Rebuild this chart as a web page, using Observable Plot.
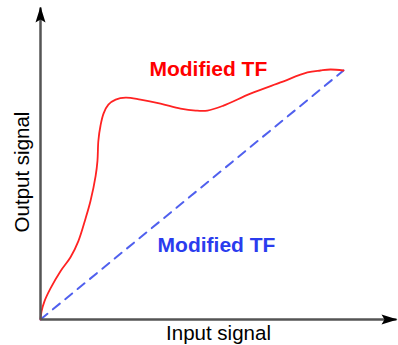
<!DOCTYPE html>
<html>
<head>
<meta charset="utf-8">
<script src="https://cdn.jsdelivr.net/npm/d3@7"></script>
<script src="https://cdn.jsdelivr.net/npm/@observablehq/plot@0.6"></script>
<style>
  html, body { margin: 0; padding: 0; background: #fff; }
  #chart { width: 398px; height: 345px; }
</style>
</head>
<body>
<div id="chart"></div>
<script>
// Modified transfer function (red)
const inputSignal = [0, 0.33, 1.3, 3.3, 6.6, 9.9, 12.5, 14.9, 16.5, 18.2, 18.8, 19.1, 19.8, 20.8, 22.4, 24.8, 28.1, 33.0, 39.6, 46.2, 51.2, 55.1, 60.4, 69.3, 79.2, 88.1, 92.4, 95.7, 100];
const outputSignal = [0, 3.2, 7.3, 12.5, 19.4, 25.0, 31.5, 40.7, 47.6, 57.7, 63.7, 71.8, 77.8, 82.7, 86.3, 88.3, 89.1, 88.3, 86.7, 84.7, 83.9, 83.9, 85.9, 90.7, 95.2, 99.2, 100, 100.4, 100];
// Linear reference (blue dashed)
const linearInput = [0, 100];
const linearOutput = [0, 100];
// Axis extents
const xMax = 117.5;
const yMax = 125.3;
// Labels
const curveLabel = "Modified TF";
const xLabel = "Input signal";
const yLabel = "Output signal";

const curve = inputSignal.map((x, i) => ({x, y: outputSignal[i]}));
const linear = linearInput.map((x, i) => ({x, y: linearOutput[i]}));
const axes = [
  {x1: 0, y1: 0, x2: xMax, y2: 0},
  {x1: 0, y1: 0, x2: 0, y2: yMax}
];

function arrowMarker() {
  const m = document.createElementNS("http://www.w3.org/2000/svg", "marker");
  m.setAttribute("viewBox", "-16 -5.5 17 11");
  m.setAttribute("markerWidth", "17");
  m.setAttribute("markerHeight", "11");
  m.setAttribute("refX", "0");
  m.setAttribute("refY", "0");
  m.setAttribute("orient", "auto");
  m.setAttribute("markerUnits", "userSpaceOnUse");
  const p = document.createElementNS("http://www.w3.org/2000/svg", "path");
  p.setAttribute("d", "M-15,-5 L1,0 L-15,5 L-12,0 Z");
  p.setAttribute("fill", "#000");
  p.setAttribute("stroke", "none");
  m.appendChild(p);
  return m;
}

const font = "Arial, 'Liberation Sans', sans-serif";

const plot = Plot.plot({
  width: 398,
  height: 345,
  marginLeft: 40,
  marginRight: 2,
  marginTop: 7,
  marginBottom: 26,
  style: {fontFamily: font, background: "#fff", overflow: "visible"},
  x: {domain: [0, xMax], axis: null},
  y: {domain: [0, yMax], axis: null},
  marks: [
    Plot.line(linear, {x: "x", y: "y", stroke: "#5060ee", strokeWidth: 2, strokeDasharray: "9,7"}),
    Plot.line(curve, {x: "x", y: "y", stroke: "#ff2222", strokeWidth: 1.8, curve: "catmull-rom"}),
    Plot.link(axes, {x1: "x1", y1: "y1", x2: "x2", y2: "y2", stroke: "#555", strokeWidth: 2.5, markerEnd: arrowMarker}),
    Plot.text([curveLabel], {x: 55.4, y: 97.6, text: d => d, fill: "#ff0000", fontSize: 21, fontWeight: "bold", textAnchor: "middle", lineAnchor: "bottom"}),
    Plot.text([curveLabel], {x: 58.1, y: 27.0, text: d => d, fill: "#2a3cee", fontSize: 21, fontWeight: "bold", textAnchor: "middle", lineAnchor: "bottom"}),
    Plot.text([xLabel], {frameAnchor: "bottom", text: d => d, dy: 20, fill: "#000", fontSize: 20.5, textAnchor: "middle", lineAnchor: "bottom"}),
    Plot.text([yLabel], {frameAnchor: "left", text: d => d, rotate: -90, dx: -12, dy: 8.5, fill: "#000", fontSize: 20.5, textAnchor: "middle", lineAnchor: "bottom"})
  ]
});
document.getElementById("chart").appendChild(plot);
</script>
</body>
</html>
